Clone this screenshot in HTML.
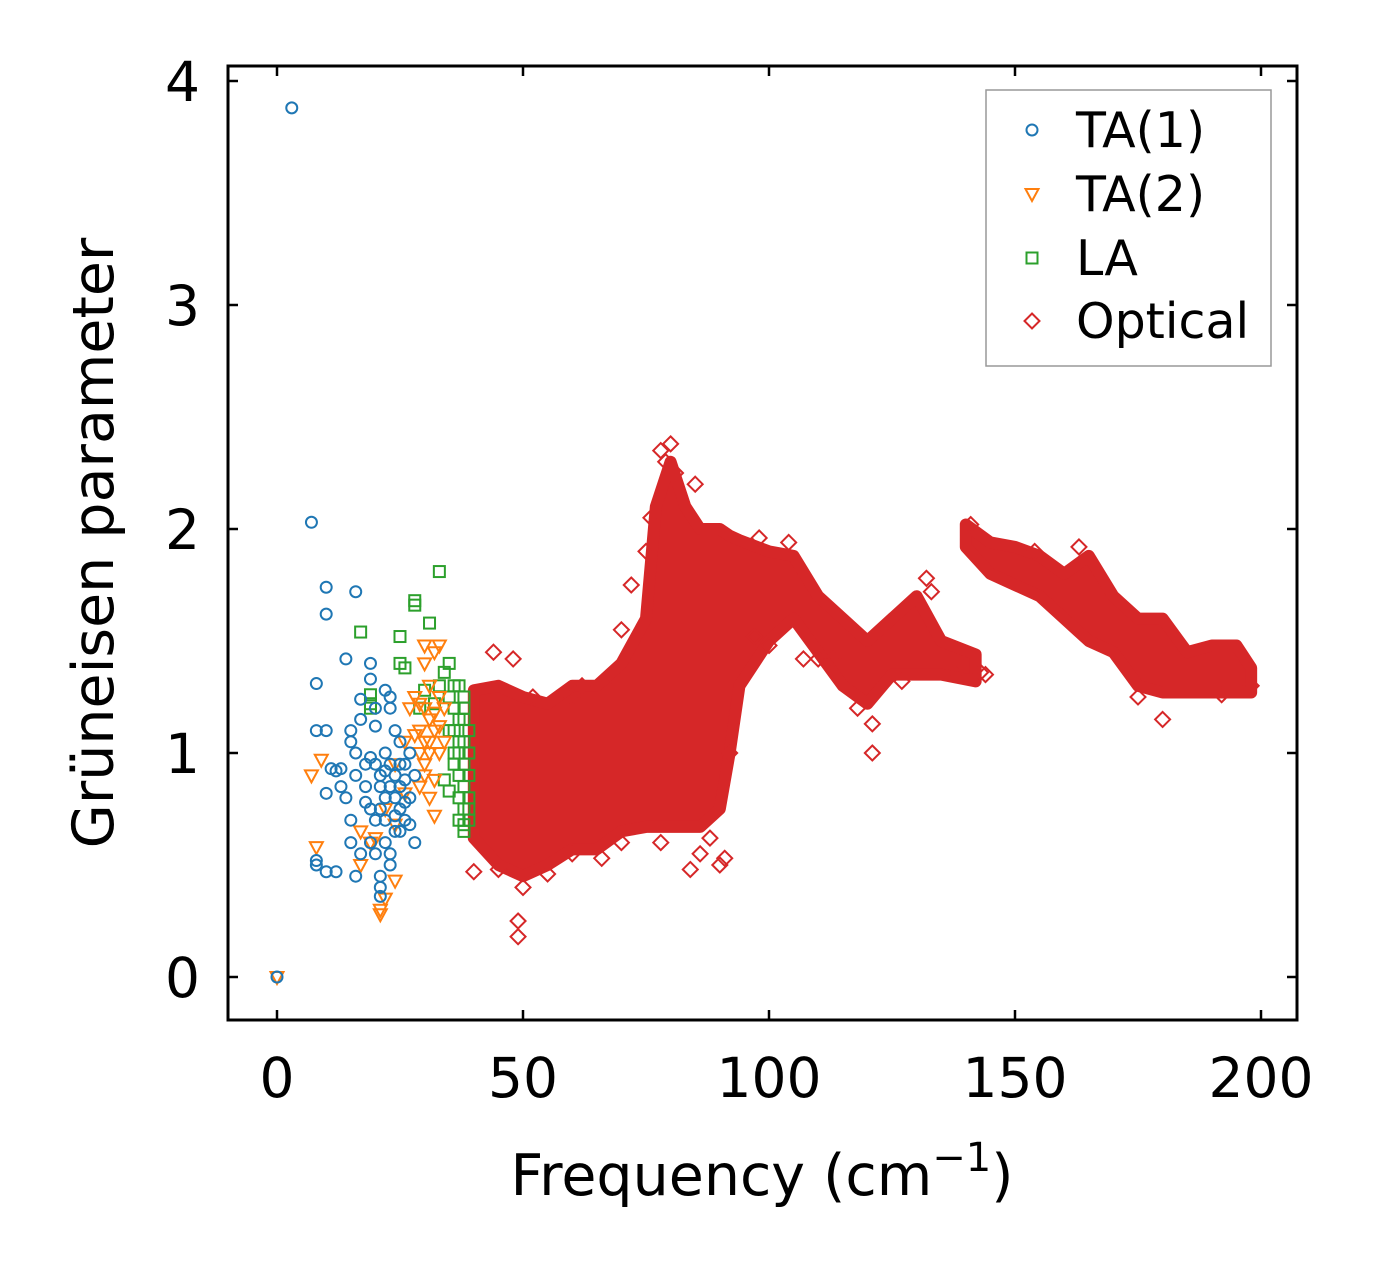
<!DOCTYPE html>
<html><head><meta charset="utf-8"><style>
body{margin:0;background:#fff}
svg text{font-family:"DejaVu Sans","Liberation Sans",sans-serif;fill:#000}
</style></head><body>
<svg id="chart" width="1376" height="1269" xmlns="http://www.w3.org/2000/svg">
<rect width="1376" height="1269" fill="#fff"/>
<g id="marks"></g>
<g id="axes"></g>
</svg>
<script>
const xTicks=[0,50,100,150,200];
const yTicks=[0,1,2,3,4];
const ta1=[[3,3.88],[7,2.03],[10,1.74],[10,1.62],[16,1.72],[8,1.31],[14,1.42],[0,0],[8,1.1],[10,1.1],[8,0.5],[8,0.52],[10,0.47],[12,0.47],[10,0.82],[11,0.93],[13,0.93],[15,1.05],[15,1.1],[16,1.0],[16,0.9],[17,1.15],[17,1.24],[19,1.4],[19,1.33],[20,1.2],[20,1.12],[18,0.95],[18,0.85],[19,0.75],[20,0.7],[21,0.9],[22,1.0],[22,0.8],[22,0.6],[21,0.45],[21,0.4],[21,0.36],[23,0.5],[23,0.55],[24,0.65],[24,0.9],[25,1.05],[25,0.85],[26,0.7],[26,0.95],[27,1.0],[27,0.8],[28,0.9],[28,0.6],[23,1.25],[23,1.2],[16,0.45],[17,0.55],[15,0.6],[15,0.7],[14,0.8],[13,0.85],[12,0.92],[24,1.1],[25,0.75],[22,1.28],[20,0.55],[19,0.6],[23,0.95],[24,0.8],[26,0.88],[21,0.85],[20,0.95],[18,0.78],[22,0.7],[25,0.95],[27,0.68],[19,0.98],[23,0.85],[24,0.72],[22,0.92],[26,0.78],[21,0.75],[25,0.65]];
const ta2=[[0,0],[7,0.9],[9,0.97],[8,0.58],[17,0.5],[17,0.65],[19,0.6],[21,0.28],[21,0.3],[22,0.35],[24,0.43],[22,0.75],[24,0.95],[26,1.05],[27,1.2],[28,1.25],[29,1.0],[29,0.85],[30,0.9],[30,1.4],[30,1.48],[31,1.3],[31,1.15],[32,1.45],[32,1.1],[33,1.0],[33,1.25],[32,0.72],[31,0.8],[29,1.1],[30,0.95],[28,1.08],[33,1.48],[34,1.2],[34,1.05],[30,1.2],[31,1.0],[32,0.88],[24,0.68],[26,0.82],[20,0.62],[31,1.05],[32,1.18],[30,1.05],[33,1.12],[29,1.22]];
const la=[[33,1.81],[28,1.68],[28,1.66],[17,1.54],[25,1.52],[31,1.58],[25,1.4],[26,1.38],[19,1.26],[19,1.22],[19,1.2],[34,1.36],[35,1.4],[36,1.3],[36,1.2],[35,1.1],[36,1.0],[37,0.9],[37,0.8],[37,0.7],[38,0.65],[38,0.75],[38,0.85],[38,0.95],[38,1.05],[38,1.15],[38,1.25],[39,0.9],[39,1.0],[39,1.1],[39,0.8],[39,0.7],[37,1.15],[37,1.05],[36,0.95],[35,0.83],[34,0.88],[35,1.25],[37,1.3],[33,1.3],[32,1.22],[29,1.2],[30,1.28],[37,1.0],[36,1.1],[38,1.2],[39,0.75],[38,0.68]];
const optBand1=[[40,0.62,1.28],[45,0.5,1.3],[50,0.45,1.25],[55,0.5,1.22],[60,0.57,1.3],[65,0.57,1.3],[70,0.65,1.4],[75,0.67,1.6],[77,0.67,2.1],[80,0.67,2.3],[83,0.67,2.1],[86,0.67,2.0],[90,0.75,2.0],[92,1.0,1.97],[94,1.3,1.95],[100,1.5,1.9],[105,1.6,1.88],[110,1.45,1.7],[115,1.3,1.6],[120,1.22,1.5],[125,1.35,1.6],[130,1.35,1.7],[135,1.35,1.5],[142,1.32,1.44]];
const optBand2=[[140,1.92,2.02],[145,1.8,1.94],[150,1.75,1.92],[155,1.7,1.88],[160,1.6,1.8],[165,1.5,1.88],[170,1.45,1.7],[175,1.3,1.6],[180,1.27,1.6],[185,1.27,1.45],[190,1.27,1.48],[195,1.27,1.48],[198,1.27,1.38]];
const optPts=[[49,0.18],[49,0.25],[44,1.45],[48,1.42],[40,0.47],[84,0.48],[90,0.5],[91,0.53],[121,1.0],[121,1.13],[80,2.38],[78,2.35],[132,1.78],[180,1.15],[133,1.72],[52,1.25],[60,1.25],[70,1.55],[72,1.75],[92,1.0],[50,0.4],[45,0.48],[66,0.53],[88,0.62],[97,1.52],[107,1.42],[113,1.42],[127,1.32],[144,1.35],[198,1.3],[163,1.92],[79,2.3],[81,2.25],[76,2.05],[85,2.2],[75,1.9],[60,0.55],[55,0.46],[70,0.6],[78,0.6],[86,0.55],[100,1.48],[110,1.42],[118,1.2],[138,1.35],[143,1.36],[175,1.25],[192,1.26],[62,1.3],[68,1.35],[98,1.96],[104,1.94],[141,2.02],[154,1.9]];

const X=v=>277+v*4.92, Y=v=>977-v*224;
const NS="http://www.w3.org/2000/svg";
const marks=document.getElementById('marks'), axes=document.getElementById('axes');
function mk(t,a,p){const e=document.createElementNS(NS,t);for(const k in a)e.setAttribute(k,a[k]);(p||marks).appendChild(e);return e;}
function marker(type,cx,cy,col,p){
  let e;
  if(type==='c') e=mk('circle',{cx:cx,cy:cy,r:5.5,fill:'none',stroke:col,'stroke-width':2},p);
  else if(type==='t') e=mk('polygon',{points:`${cx-6.5},${cy-5} ${cx+6.5},${cy-5} ${cx},${cy+7}`,fill:'none',stroke:col,'stroke-width':2},p);
  else if(type==='s') e=mk('rect',{x:cx-5.5,y:cy-5.5,width:11,height:11,fill:'none',stroke:col,'stroke-width':2},p);
  else e=mk('polygon',{points:`${cx},${cy-7.5} ${cx+7.5},${cy} ${cx},${cy+7.5} ${cx-7.5},${cy}`,fill:'none',stroke:col,'stroke-width':2},p);
  return e;
}
function band(arr,name){
  const top=arr.map(d=>`${X(d[0])},${Y(d[2])}`), bot=arr.slice().reverse().map(d=>`${X(d[0])},${Y(d[1])}`);
  const e=mk('polygon',{points:top.concat(bot).join(' '),fill:'#d62728',stroke:'#d62728','stroke-width':12,'stroke-linejoin':'round'});
  
  
}
band(optBand1,'optical-band-low');
band(optBand2,'optical-band-high');
optPts.forEach(d=>{const e=marker('d',X(d[0]),Y(d[1]),'#d62728');

});
la.forEach(d=>{const e=marker('s',X(d[0]),Y(d[1]),'#2ca02c');

});
ta2.forEach(d=>{const e=marker('t',X(d[0]),Y(d[1]),'#ff7f0e');

});
ta1.forEach(d=>{const e=marker('c',X(d[0]),Y(d[1]),'#1f77b4');

});

const f=mk('rect',{x:228,y:66,width:1069,height:954,fill:'none',stroke:'#000','stroke-width':3},axes);


xTicks.forEach(v=>{const x=X(v);
mk('line',{x1:x,x2:x,y1:1020,y2:1010,stroke:'#000','stroke-width':2.5},axes);
mk('line',{x1:x,x2:x,y1:66,y2:76,stroke:'#000','stroke-width':2.5},axes);
const t=mk('text',{x:x,y:1097,'text-anchor':'middle','font-size':55},axes);t.textContent=v;

});
yTicks.forEach(v=>{const y=Y(v);
mk('line',{x1:228,x2:238,y1:y,y2:y,stroke:'#000','stroke-width':2.5},axes);
mk('line',{x1:1297,x2:1287,y1:y,y2:y,stroke:'#000','stroke-width':2.5},axes);
const t=mk('text',{x:200,y:y+20,'text-anchor':'end','font-size':55},axes);t.textContent=v;

});
const xl=mk('text',{x:762,y:1195,'text-anchor':'middle','font-size':57},axes);
xl.innerHTML='Frequency (cm<tspan dy="-24" font-size="40">−1</tspan><tspan dy="24">)</tspan>';


const yl=mk('text',{x:0,y:0,'text-anchor':'middle','font-size':57,transform:'translate(113,543) rotate(-90)'},axes);
yl.textContent='Grüneisen parameter';


const lg=mk('g',{},axes);


mk('rect',{x:986,y:90,width:285,height:276,fill:'#fff',stroke:'#999','stroke-width':1.5},lg);
[['c','#1f77b4','TA(1)',130],['t','#ff7f0e','TA(2)',194],['s','#2ca02c','LA',258],['d','#d62728','Optical',321]].forEach(r=>{
const m=marker(r[0],1032,r[3],r[1],lg);


const t=mk('text',{x:1076,y:r[3]+17,'font-size':49},lg);t.textContent=r[2];

});
</script>
</body></html>
